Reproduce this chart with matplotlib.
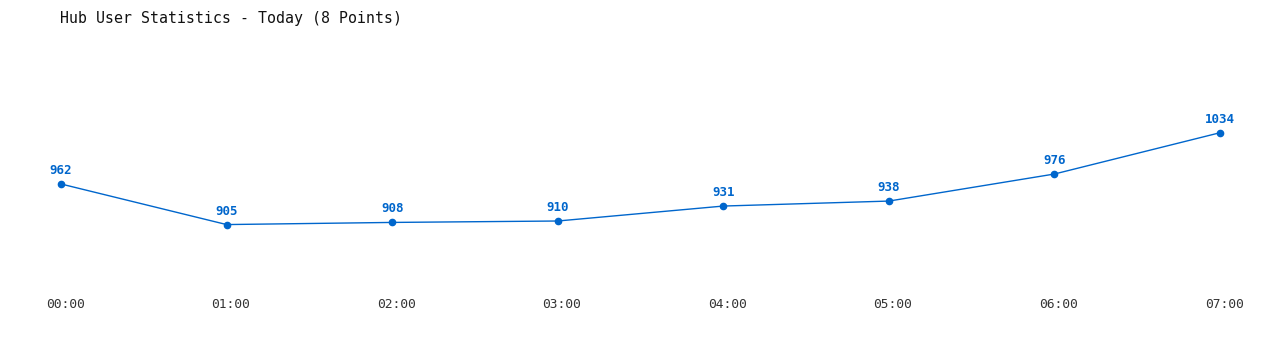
import matplotlib
matplotlib.use("Agg")
import matplotlib.pyplot as plt

# hourly user counts
hours = ["00:00", "01:00", "02:00", "03:00", "04:00", "05:00", "06:00", "07:00"]
users = [962, 905, 908, 910, 931, 938, 976, 1034]

LINE = "#0066cc"
MONO = "DejaVu Sans Mono"

fig = plt.figure(figsize=(12.8, 3.5), dpi=100)
# axes spans the top 290 px of the figure
ax = fig.add_axes([0, 60 / 350, 1, 290 / 350])

xs = list(range(len(users)))
ax.plot(xs, users, color=LINE, lw=1, marker="o", ms=4.5, zorder=3)

for x, v in zip(xs, users):
    ax.annotate(str(v), (x, v), xytext=(0, 5), textcoords="offset points",
                ha="center", va="bottom", color=LINE, fontsize=9,
                fontweight="bold", family=MONO)

ax.set_xlim(-0.3684, 7.3624)
ax.set_ylim(813.1, 1220.4)
ax.set_xticks([x + 0.025 for x in xs])
ax.set_xticklabels(hours, family=MONO, fontsize=9.3, color="#333333")
ax.tick_params(axis="x", length=0, pad=6)
ax.set_yticks([])
for s in ax.spines.values():
    s.set_visible(False)

fig.text(60 / 1280, 1 - 18 / 350, "Hub User Statistics - Today (8 Points)",
         ha="left", va="center", family=MONO, fontsize=10.7, color="#111111")

fig.savefig("out.png", dpi=100)
